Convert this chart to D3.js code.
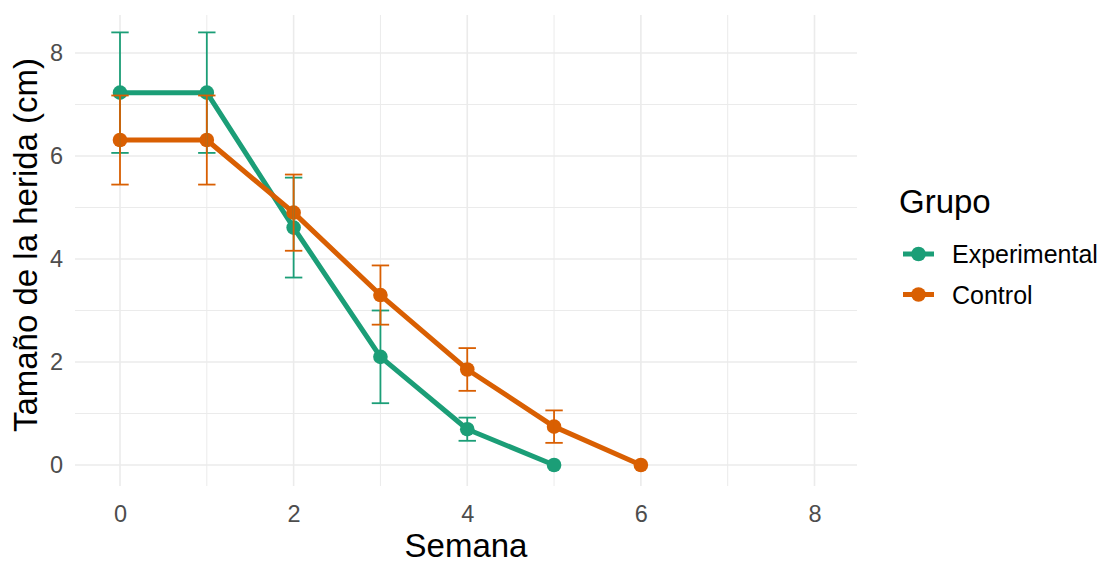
<!DOCTYPE html>
<html><head><meta charset="utf-8">
<script src="https://cdn.jsdelivr.net/npm/d3@7"></script>
<style>body{margin:0;background:#fff;} svg{display:block;font-family:"Liberation Sans",Arial,sans-serif;}</style>
</head><body>
<svg id="c" width="1108" height="563"></svg>
<script>
const weeks = [0,1,2,3,4,5,6];
const groups = ["Experimental","Control"];
const colors = ["#1B9E77","#D95F02"];
const expMean = [7.23,7.23,4.61,2.1,0.695,0.0];
const expErr  = [1.17,1.17,0.97,0.9,0.225,0];
const ctlMean = [6.31,6.31,4.9,3.3,1.855,0.745,0.0];
const ctlErr  = [0.865,0.865,0.74,0.575,0.415,0.315,0];
const xTicks = [0,2,4,6,8];
const yTicks = [0,2,4,6,8];

const svg = d3.select("#c");
const x = d3.scaleLinear().domain([0,8]).range([120,814.5]);
const y = d3.scaleLinear().domain([0,8]).range([465,53]);
const X0 = 75, X1 = 857, Y0 = 486, Y1 = 15;

const grid = svg.append("g");
d3.range(0,9,1).forEach(v=>{
  const major = v%2===0;
  grid.append("line").attr("x1",x(v)).attr("x2",x(v)).attr("y1",Y0).attr("y2",Y1)
    .attr("stroke","#ebebeb").attr("stroke-width",major?1.6:1);
  grid.append("line").attr("y1",y(v)).attr("y2",y(v)).attr("x1",X0).attr("x2",X1)
    .attr("stroke","#ebebeb").attr("stroke-width",major?1.6:1);
});

const xa = svg.append("g").attr("transform","translate(0,496)").call(d3.axisBottom(x).tickValues(xTicks).tickSize(0).tickPadding(0).tickFormat(d3.format("d")));
xa.select(".domain").remove();
xa.selectAll("text").attr("y",26).attr("dy",0).attr("font-size",23.5).attr("fill","#4d4d4d").attr("font-family","Liberation Sans, Arial, sans-serif");
const ya = svg.append("g").attr("transform","translate(63,0)").call(d3.axisLeft(y).tickValues(yTicks).tickSize(0).tickPadding(0).tickFormat(d3.format("d")));
ya.select(".domain").remove();
ya.selectAll("text").attr("font-size",23.5).attr("fill","#4d4d4d").attr("font-family","Liberation Sans, Arial, sans-serif");

svg.append("text").attr("x",466).attr("y",557).attr("text-anchor","middle").attr("font-size",33).attr("fill","#000").text("Semana");
svg.append("text").attr("transform","translate(37,245) rotate(-90)").attr("text-anchor","middle").attr("font-size",33).attr("fill","#000").text("Tamaño de la herida (cm)");

const series = [
  {name:groups[0], color:colors[0], mean:expMean, err:expErr},
  {name:groups[1], color:colors[1], mean:ctlMean, err:ctlErr}
];
const line = d3.line().x(d=>x(d.w)).y(d=>y(d.m));
const pts = s => s.mean.map((m,i)=>({w:weeks[i],m:m,e:s.err[i]}));
series.forEach(s=>{
  svg.append("path").datum(pts(s)).attr("d",line).attr("fill","none").attr("stroke",s.color).attr("stroke-width",5).attr("stroke-linejoin","round");
});
series.forEach(s=>{
  svg.append("g").selectAll("circle").data(pts(s)).join("circle").attr("cx",d=>x(d.w)).attr("cy",d=>y(d.m)).attr("r",7.3).attr("fill",s.color);
});
series.forEach(s=>{
  const g = svg.append("g");
  pts(s).filter(p=>p.e>0).forEach(p=>{
    g.append("line").attr("x1",x(p.w)).attr("x2",x(p.w)).attr("y1",y(p.m-p.e)).attr("y2",y(p.m+p.e)).attr("stroke",s.color).attr("stroke-width",1.8);
    [p.m-p.e,p.m+p.e].forEach(v=>{
      g.append("line").attr("x1",x(p.w)-8.7).attr("x2",x(p.w)+8.7).attr("y1",y(v)).attr("y2",y(v)).attr("stroke",s.color).attr("stroke-width",1.8);
    });
  });
});

const lg = svg.append("g");
lg.append("text").attr("x",899).attr("y",213).attr("font-size",33).attr("fill","#000").text("Grupo");
series.forEach((s,i)=>{
  const cy = 254 + i*40.5;
  lg.append("line").attr("x1",903).attr("x2",934).attr("y1",cy).attr("y2",cy).attr("stroke",s.color).attr("stroke-width",5);
  lg.append("circle").attr("cx",918.5).attr("cy",cy).attr("r",7.3).attr("fill",s.color);
  lg.append("text").attr("x",952).attr("y",cy+9).attr("font-size",25).attr("fill","#000").text(s.name);
});
</script>
</body></html>
